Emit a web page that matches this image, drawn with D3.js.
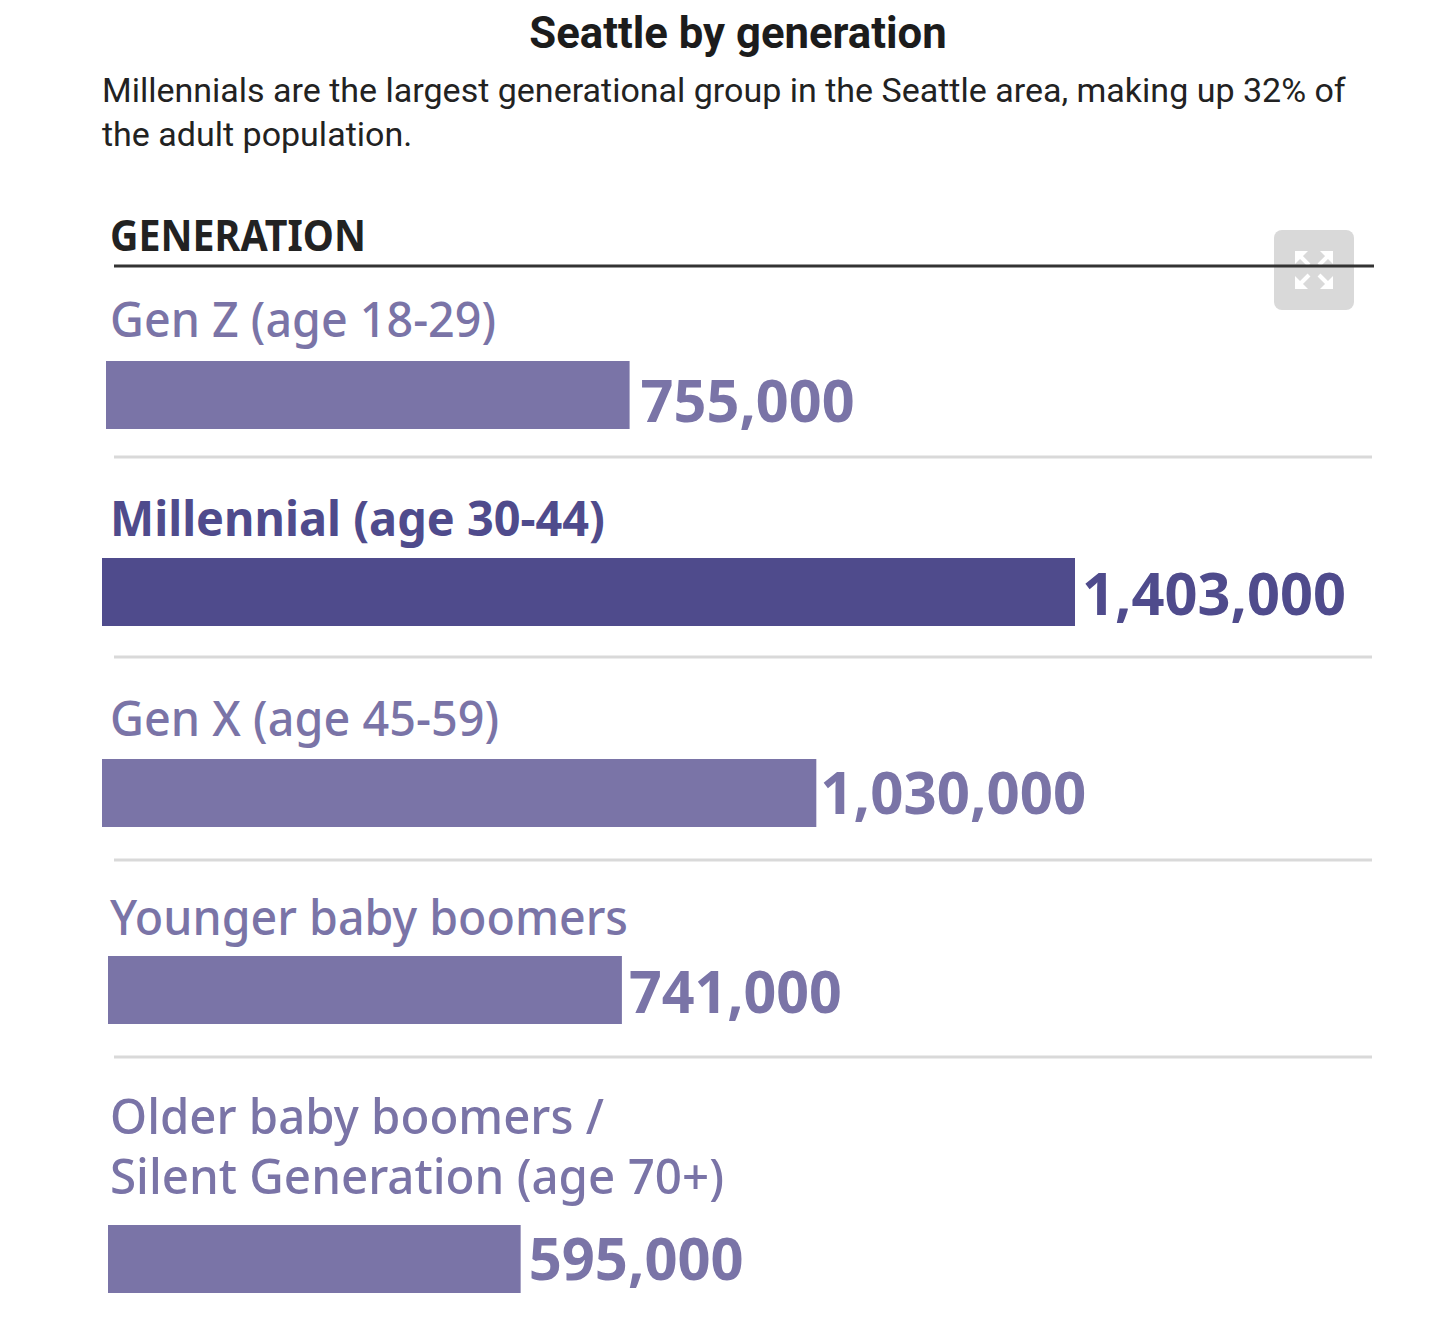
<!DOCTYPE html>
<html>
<head>
<meta charset="utf-8">
<title>Seattle by generation</title>
<script src="https://d3js.org/d3.v7.min.js"></script>
<style>
  body { margin: 0; background: #fff; }
  text { font-family: "Open Sans", sans-serif; }
</style>
</head>
<body>
<div id="chart"></div>
<script>
const labels = [['Gen Z (age 18-29)'], ['Millennial (age 30-44)'], ['Gen X (age 45-59)'], ['Younger baby boomers'], ['Older baby boomers /', 'Silent Generation (age 70+)']];
const values = [755000, 1403000, 1030000, 741000, 595000];
const highlight = 'Millennial (age 30-44)';
const subtitle = ['Millennials are the largest generational group in the Seattle area, making up 32% of', 'the adult population.'];

// each row was laid out by hand in the original graphic
const barLeft = [106, 102, 102, 108, 108];
const barTop = [361, 558, 759, 956, 1225];
const labelY = [337, 536, 736, 935, 1134];
const labelW = [[386], [495], [389], [518], [494, 614]];
const valueGap = [11, 7, 4, 7, 8];
const valueDrop = [61, 57, 55, 57, 55];
const valueW = [214, 264, 266, 213, 215];
const ruleY = [457, 657, 860, 1057];

const barH = 68;
const x = d3.scaleLinear().domain([0, 1403000]).range([0, 973]);
const fmt = d3.format(',');

const svg = d3.select('#chart').append('svg')
    .attr('width', 1446)
    .attr('height', 1326);

svg.append('text')
    .attr('x', 738).attr('y', 48)
    .attr('text-anchor', 'middle')
    .style('font-family', 'Roboto, sans-serif')
    .style('font-weight', 700)
    .style('font-size', '43.7px')
    .style('fill', '#1c1c1c')
    .text('Seattle by generation');

svg.selectAll('.sub').data(subtitle).enter().append('text')
    .attr('class', 'sub')
    .attr('x', 102)
    .attr('y', (d, i) => 102 + i * 44)
    .style('font-family', 'Roboto, sans-serif')
    .style('font-size', '34px')
    .style('fill', '#222')
    .text(d => d);

svg.append('text')
    .attr('x', 110).attr('y', 251)
    .style('font-family', '"Noto Sans", sans-serif')
    .style('font-weight', 700)
    .style('font-size', '43px')
    .style('fill', '#222')
    .attr('textLength', 256)
    .attr('lengthAdjust', 'spacingAndGlyphs')
    .text('GENERATION');

// button sits under the header rule, its arrows on top
const btn = svg.append('g').attr('transform', 'translate(1274,230)');
btn.append('rect')
    .attr('width', 80).attr('height', 80).attr('rx', 8)
    .style('fill', '#d9d9d9');

svg.append('line')
    .attr('x1', 114).attr('x2', 1374)
    .attr('y1', 266).attr('y2', 266)
    .style('stroke', '#333')
    .style('stroke-width', 3);

svg.selectAll('.rule').data(ruleY).enter().append('line')
    .attr('class', 'rule')
    .attr('x1', 114).attr('x2', 1372)
    .attr('y1', d => d).attr('y2', d => d)
    .style('stroke', '#d9d9d9')
    .style('stroke-width', 3);

const rows = svg.selectAll('.row').data(values).enter().append('g').attr('class', 'row');

const colour = i => labels[i][0] === highlight ? '#4f4b8c' : '#7a74a7';

rows.append('rect')
    .attr('x', (d, i) => barLeft[i])
    .attr('y', (d, i) => barTop[i])
    .attr('width', d => x(d))
    .attr('height', barH)
    .style('fill', (d, i) => colour(i));

rows.append('text')
    .attr('x', (d, i) => barLeft[i] + x(d) + valueGap[i])
    .attr('y', (d, i) => barTop[i] + valueDrop[i])
    .attr('textLength', (d, i) => valueW[i])
    .attr('lengthAdjust', 'spacingAndGlyphs')
    .style('font-family', '"Noto Sans", sans-serif')
    .style('font-weight', 700)
    .style('font-size', '59px')
    .style('fill', (d, i) => colour(i))
    .text(d => fmt(d));

rows.each(function (d, i) {
  d3.select(this).selectAll('.lab').data(labels[i]).enter().append('text')
      .attr('class', 'lab')
      .attr('x', 110)
      .attr('y', (t, j) => labelY[i] + j * 60)
      .attr('textLength', (t, j) => labelW[i][j])
      .attr('lengthAdjust', 'spacingAndGlyphs')
      .style('font-family', '"Noto Sans", sans-serif')
      .style('font-weight', labels[i][0] === highlight ? 700 : 500)
      .style('font-size', '49px')
      .style('fill', colour(i))
      .text(t => t);
});

// expand icon: four arrows pointing out from the centre
const arrows = [[21, 21, 1, 1], [59, 21, -1, 1], [21, 59, 1, -1], [59, 59, -1, -1]];
const icon = btn.selectAll('.arrow').data(arrows).enter().append('g').attr('class', 'arrow');
icon.append('path')
    .attr('d', d => `M${d[0]},${d[1]}h${d[2] * 13}l${-d[2] * 13},${d[3] * 13}z`)
    .style('fill', '#fff');
icon.append('line')
    .attr('x1', d => d[0] + d[2] * 4).attr('y1', d => d[1] + d[3] * 4)
    .attr('x2', d => d[0] + d[2] * 14).attr('y2', d => d[1] + d[3] * 14)
    .style('stroke', '#fff')
    .style('stroke-width', 4);
</script>
</body>
</html>
